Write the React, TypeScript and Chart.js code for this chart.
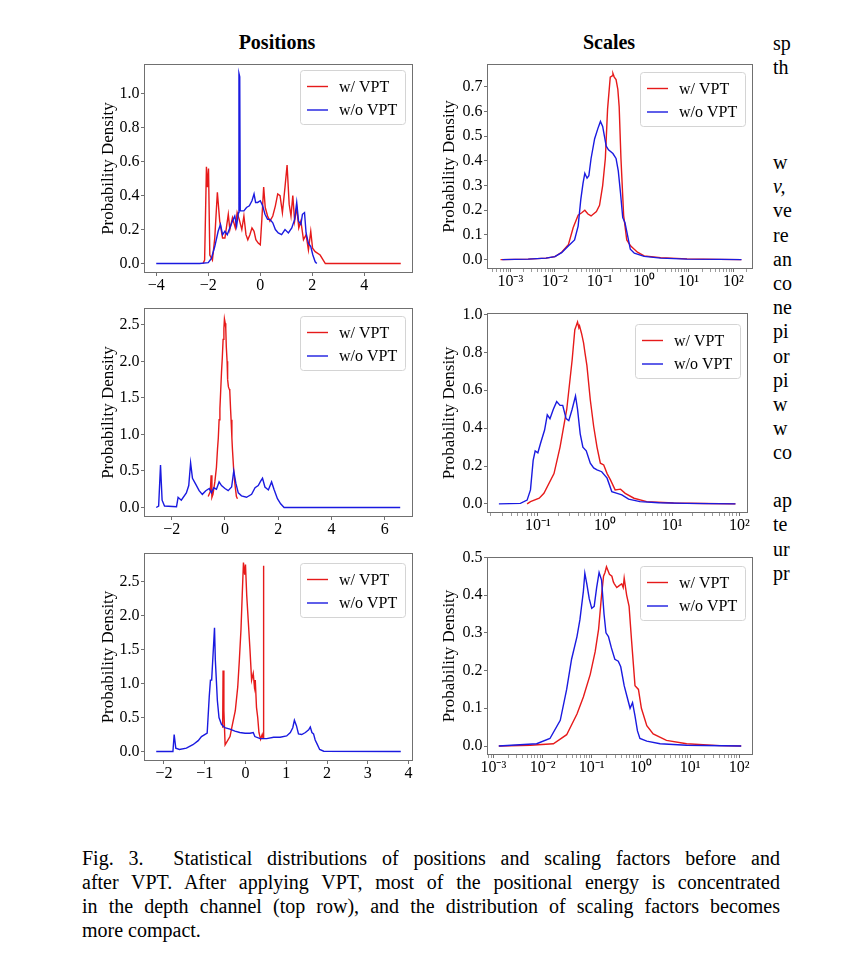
import React, { useEffect, useRef } from "react";
import { Chart, registerables } from "chart.js";

Chart.register(...registerables);

type Pt = [number, number];

const FONT = '"Liberation Serif", "Times New Roman", Times, serif';
const RED = "#e61a1a";
const BLUE = "#1a1ae0";
const FRAME = "#707070";

const seriesLabels = ["w/ VPT", "w/o VPT"];
const columnTitles = ["Positions", "Scales"];
const yAxisTitle = "Probability Density";

// ---------- tick values ----------
const posTopXTicks = [-4, -2, 0, 2, 4];
const posTopYTicks = [0, 0.2, 0.4, 0.6, 0.8, 1.0];
const posMidXTicks = [-2, 0, 2, 4, 6];
const posMidYTicks = [0, 0.5, 1.0, 1.5, 2.0, 2.5];
const posBotXTicks = [-2, -1, 0, 1, 2, 3, 4];
const posBotYTicks = [0, 0.5, 1.0, 1.5, 2.0, 2.5];
const scaleTopXTicks = [1e-3, 1e-2, 1e-1, 1, 10, 100];
const scaleTopYTicks = [0, 0.1, 0.2, 0.3, 0.4, 0.5, 0.6, 0.7];
const scaleMidXTicks = [1e-1, 1, 10, 100];
const scaleMidYTicks = [0, 0.2, 0.4, 0.6, 0.8, 1.0];
const scaleBotXTicks = [1e-3, 1e-2, 1e-1, 1, 10, 100];
const scaleBotYTicks = [0, 0.1, 0.2, 0.3, 0.4, 0.5];

// ---------- data: positions (x = position, y = density) ----------
const posTopRed: Pt[] = [[-2.2,0],[-2.14,0.02],[-2.07,0.57],[-2.03,0.45],[-1.99,0.56],[-1.94,0.05],[-1.84,0.02],[-1.75,0.15],[-1.65,0.42],[-1.56,0.25],[-1.45,0.15],[-1.36,0.15],[-1.23,0.29],[-1.17,0.2],[-1.07,0.27],[-0.96,0.21],[-0.89,0.3],[-0.81,0.26],[-0.71,0.2],[-0.63,0.28],[-0.55,0.17],[-0.48,0.14],[-0.4,0.17],[-0.32,0.21],[-0.24,0.19],[-0.17,0.14],[-0.08,0.12],[0,0.11],[0.06,0.26],[0.13,0.45],[0.19,0.33],[0.28,0.28],[0.37,0.25],[0.48,0.28],[0.58,0.34],[0.67,0.41],[0.76,0.4],[0.85,0.3],[0.95,0.45],[1.03,0.58],[1.11,0.35],[1.18,0.28],[1.25,0.4],[1.32,0.25],[1.4,0.33],[1.48,0.21],[1.56,0.25],[1.66,0.14],[1.76,0.17],[1.85,0.08],[1.94,0.19],[2.01,0.09],[2.11,0.07],[2.3,0.05],[2.5,0],[5.4,0]];
const posTopBlue: Pt[] = [[-4.0,0],[-2.33,0],[-2.0,0.005],[-1.88,0.03],[-1.75,0.1],[-1.62,0.19],[-1.53,0.23],[-1.45,0.17],[-1.36,0.19],[-1.27,0.17],[-1.17,0.21],[-1.07,0.25],[-0.98,0.28],[-0.91,0.22],[-0.84,0.3],[-0.82,1.12],[-0.79,1.1],[-0.77,0.31],[-0.7,0.31],[-0.63,0.31],[-0.53,0.33],[-0.42,0.34],[-0.32,0.37],[-0.24,0.41],[-0.18,0.36],[-0.1,0.36],[0,0.37],[0.09,0.34],[0.18,0.29],[0.28,0.26],[0.37,0.26],[0.48,0.24],[0.58,0.2],[0.69,0.18],[0.82,0.17],[0.95,0.2],[1.08,0.18],[1.21,0.21],[1.32,0.26],[1.4,0.36],[1.47,0.25],[1.56,0.23],[1.62,0.29],[1.7,0.3],[1.76,0.18],[1.85,0.12],[1.94,0.1],[2.02,0.05],[2.11,0.01],[2.17,0]];

const posMidRed: Pt[] = [[-0.63,0.15],[-0.55,0.22],[-0.52,0.44],[-0.49,0.14],[-0.45,0.18],[-0.38,0.35],[-0.32,0.55],[-0.28,0.8],[-0.25,0.95],[-0.22,1.2],[-0.19,1.35],[-0.16,1.6],[-0.13,1.85],[-0.1,2.05],[-0.07,2.3],[-0.04,2.45],[-0.02,2.58],[0.01,2.52],[0.03,2.45],[0.05,2.2],[0.08,2.0],[0.1,1.75],[0.13,1.65],[0.16,1.62],[0.18,1.6],[0.21,1.35],[0.23,1.2],[0.26,0.95],[0.28,0.8],[0.33,0.5],[0.38,0.3],[0.43,0.15],[0.47,0.12]];
const posMidBlue: Pt[] = [[-2.58,0],[-2.49,0.02],[-2.42,0.58],[-2.36,0.1],[-2.27,0.02],[-1.82,0.01],[-1.76,0.14],[-1.64,0.1],[-1.45,0.2],[-1.36,0.3],[-1.29,0.61],[-1.22,0.4],[-1.1,0.32],[-0.97,0.23],[-0.85,0.18],[-0.72,0.23],[-0.59,0.26],[-0.51,0.2],[-0.42,0.27],[-0.32,0.25],[-0.22,0.35],[-0.13,0.3],[0,0.26],[0.12,0.23],[0.25,0.28],[0.33,0.5],[0.41,0.33],[0.5,0.2],[0.62,0.16],[0.81,0.14],[1.0,0.18],[1.13,0.27],[1.25,0.3],[1.34,0.36],[1.41,0.4],[1.5,0.28],[1.63,0.24],[1.75,0.35],[1.84,0.25],[1.97,0.12],[2.09,0.05],[2.22,0],[6.58,0]];

const posBotRed: Pt[] = [[-0.56,0.35],[-0.55,1.19],[-0.53,0.6],[-0.5,0.1],[-0.45,0.15],[-0.38,0.22],[-0.32,0.4],[-0.25,0.6],[-0.19,0.95],[-0.15,1.35],[-0.11,1.8],[-0.08,2.3],[-0.05,2.78],[-0.02,2.6],[0,2.75],[0.03,2.3],[0.07,1.9],[0.11,1.5],[0.15,1.05],[0.19,1.15],[0.22,0.95],[0.24,1.05],[0.27,0.65],[0.3,0.5],[0.33,0.28],[0.37,0.18],[0.41,0.25],[0.43,0.2],[0.44,2.73],[0.45,0.2]];
const posBotBlue: Pt[] = [[-2.19,0],[-1.78,0],[-1.75,0.25],[-1.71,0.05],[-1.62,0.03],[-1.45,0.05],[-1.29,0.1],[-1.16,0.16],[-1.08,0.22],[-0.94,0.27],[-0.89,0.8],[-0.86,1.05],[-0.83,1.05],[-0.78,1.6],[-0.76,1.82],[-0.74,1.35],[-0.69,0.75],[-0.65,0.5],[-0.59,0.4],[-0.51,0.35],[-0.38,0.33],[-0.26,0.3],[-0.14,0.28],[-0.01,0.27],[0.11,0.27],[0.19,0.28],[0.23,0.22],[0.36,0.19],[0.52,0.19],[0.69,0.21],[0.85,0.21],[1.01,0.23],[1.1,0.28],[1.16,0.35],[1.2,0.46],[1.25,0.38],[1.3,0.26],[1.38,0.25],[1.47,0.28],[1.55,0.32],[1.59,0.36],[1.63,0.28],[1.67,0.26],[1.71,0.17],[1.75,0.12],[1.82,0.03],[1.92,0.005],[3.81,0]];

// ---------- data: scales (x given as log10 of the scale, y = density) ----------
const scaleTopRed: Pt[] = [[-3.22,0],[-2.6,0.002],[-2.2,0.006],[-2.0,0.012],[-1.85,0.03],[-1.7,0.06],[-1.59,0.13],[-1.48,0.18],[-1.4,0.19],[-1.33,0.2],[-1.26,0.185],[-1.19,0.177],[-1.07,0.195],[-1.0,0.22],[-0.93,0.3],[-0.87,0.41],[-0.82,0.61],[-0.76,0.74],[-0.72,0.745],[-0.7,0.755],[-0.67,0.74],[-0.63,0.73],[-0.59,0.69],[-0.56,0.62],[-0.52,0.41],[-0.46,0.18],[-0.39,0.08],[-0.3,0.055],[-0.15,0.03],[0,0.015],[0.37,0.008],[0.96,0.003],[1.7,0.001],[2.18,0]];
const scaleTopBlue: Pt[] = [[-3.18,0],[-2.6,0.002],[-2.2,0.006],[-2.0,0.012],[-1.85,0.028],[-1.7,0.055],[-1.56,0.08],[-1.48,0.136],[-1.42,0.244],[-1.37,0.31],[-1.33,0.35],[-1.28,0.33],[-1.24,0.34],[-1.19,0.41],[-1.11,0.49],[-1.04,0.53],[-0.98,0.56],[-0.93,0.54],[-0.89,0.5],[-0.85,0.46],[-0.8,0.445],[-0.7,0.43],[-0.63,0.41],[-0.58,0.36],[-0.53,0.27],[-0.48,0.17],[-0.43,0.15],[-0.37,0.096],[-0.31,0.042],[-0.22,0.026],[0,0.013],[0.37,0.006],[0.96,0.002],[1.7,0.001],[2.18,0]];

const scaleMidRed: Pt[] = [[-1.16,0],[-1.11,0.012],[-0.98,0.03],[-0.91,0.056],[-0.76,0.16],[-0.67,0.3],[-0.57,0.5],[-0.49,0.76],[-0.45,0.92],[-0.43,0.94],[-0.41,0.96],[-0.39,0.93],[-0.38,0.94],[-0.35,0.9],[-0.32,0.85],[-0.3,0.8],[-0.27,0.73],[-0.22,0.55],[-0.17,0.41],[-0.12,0.3],[-0.07,0.215],[-0.02,0.206],[0.03,0.16],[0.08,0.127],[0.15,0.074],[0.23,0.078],[0.3,0.056],[0.43,0.03],[0.62,0.012],[1.02,0.005],[1.47,0.002],[1.94,0]];
const scaleMidBlue: Pt[] = [[-1.58,0],[-1.26,0.003],[-1.16,0.02],[-1.11,0.074],[-1.07,0.23],[-1.04,0.28],[-1.0,0.27],[-0.96,0.32],[-0.9,0.39],[-0.86,0.47],[-0.82,0.45],[-0.77,0.5],[-0.72,0.54],[-0.67,0.52],[-0.63,0.52],[-0.58,0.45],[-0.54,0.44],[-0.49,0.5],[-0.44,0.57],[-0.41,0.5],[-0.37,0.37],[-0.33,0.3],[-0.28,0.28],[-0.22,0.215],[-0.17,0.19],[-0.12,0.18],[-0.05,0.17],[0.03,0.136],[0.1,0.065],[0.18,0.056],[0.25,0.048],[0.35,0.025],[0.52,0.012],[0.8,0.006],[1.2,0.003],[1.94,0]];

const scaleBotRed: Pt[] = [[-2.89,0],[-2.25,0.002],[-1.78,0.006],[-1.51,0.03],[-1.3,0.085],[-1.17,0.13],[-1.03,0.19],[-0.93,0.25],[-0.86,0.31],[-0.8,0.4],[-0.76,0.45],[-0.73,0.46],[-0.7,0.475],[-0.67,0.465],[-0.64,0.455],[-0.59,0.45],[-0.56,0.435],[-0.54,0.43],[-0.49,0.42],[-0.44,0.425],[-0.39,0.43],[-0.36,0.42],[-0.34,0.445],[-0.29,0.4],[-0.24,0.37],[-0.19,0.28],[-0.12,0.16],[-0.05,0.15],[0.01,0.1],[0.12,0.054],[0.25,0.032],[0.52,0.015],[0.93,0.006],[1.6,0.001],[2.04,0]];
const scaleBotBlue: Pt[] = [[-2.89,0],[-2.12,0.006],[-1.85,0.02],[-1.64,0.068],[-1.51,0.15],[-1.41,0.23],[-1.3,0.29],[-1.24,0.335],[-1.17,0.41],[-1.14,0.458],[-1.1,0.43],[-1.05,0.39],[-1.0,0.365],[-0.95,0.37],[-0.9,0.42],[-0.85,0.46],[-0.8,0.44],[-0.75,0.35],[-0.71,0.3],[-0.66,0.29],[-0.6,0.26],[-0.53,0.23],[-0.46,0.225],[-0.41,0.21],[-0.34,0.16],[-0.28,0.13],[-0.22,0.1],[-0.17,0.115],[-0.12,0.08],[-0.07,0.04],[-0.02,0.02],[0.12,0.013],[0.39,0.006],[0.93,0.002],[2.04,0]];

// ---------- caption & surrounding text ----------
const captionLines = [
  "Fig. 3.\u00a0\u00a0Statistical distributions of positions and scaling factors before and",
  "after VPT. After applying VPT, most of the positional energy is concentrated",
  "in the depth channel (top row), and the distribution of scaling factors becomes",
  "more compact.",
];
const sideFragments: [string, number][] = [
  ["sp", 43], ["th", 67], ["w", 162], ["v,", 186], ["ve", 210], ["re", 235], ["an", 259],
  ["co", 283], ["ne", 307], ["pi", 331], ["or", 356], ["pi", 380], ["w", 404], ["w", 428],
  ["co", 452], ["ap", 500], ["te", 524], ["ur", 549], ["pr", 573],
];

// ---------- layout constants ----------
const Y_AXIS_W = 54;
const X_AXIS_H = 24;
const PAD_T = 12;
const PAD_R = 16;

type Spec = {
  frame: [number, number, number, number];
  log: boolean;
  xMin: number; xMax: number; yMin: number; yMax: number;
  xTicks: number[]; yTicks: number[];
  red: Pt[]; blue: Pt[];
  legendGap: [number, number];
  titlePad: number;
};

const specs: Spec[] = [
  { frame: [144, 64, 413, 273], log: false, xMin: -4.47, xMax: 5.87, yMin: -0.056, yMax: 1.176,
    xTicks: posTopXTicks, yTicks: posTopYTicks, red: posTopRed, blue: posTopBlue, legendGap: [8, 6], titlePad: 8.6 },
  { frame: [487, 64, 753, 269], log: true, xMin: -3.48, xMax: 2.44, yMin: -0.038, yMax: 0.793,
    xTicks: scaleTopXTicks, yTicks: scaleTopYTicks, red: scaleTopRed, blue: scaleTopBlue, legendGap: [8, 8], titlePad: 6 },
  { frame: [144, 308, 413, 517], log: false, xMin: -3.04, xMax: 7.06, yMin: -0.13, yMax: 2.73,
    xTicks: posMidXTicks, yTicks: posMidYTicks, red: posMidRed, blue: posMidBlue, legendGap: [8, 8], titlePad: 8.6 },
  { frame: [487, 313, 748, 513], log: true, xMin: -1.757, xMax: 2.127, yMin: -0.048, yMax: 1.008,
    xTicks: scaleMidXTicks, yTicks: scaleMidYTicks, red: scaleMidRed, blue: scaleMidBlue, legendGap: [8, 11], titlePad: 6 },
  { frame: [144, 553, 413, 761], log: false, xMin: -2.49, xMax: 4.11, yMin: -0.139, yMax: 2.919,
    xTicks: posBotXTicks, yTicks: posBotYTicks, red: posBotRed, blue: posBotBlue, legendGap: [8, 10], titlePad: 8.6 },
  { frame: [487, 557, 753, 755], log: true, xMin: -3.13, xMax: 2.28, yMin: -0.0238, yMax: 0.501,
    xTicks: scaleBotXTicks, yTicks: scaleBotYTicks, red: scaleBotRed, blue: scaleBotBlue, legendGap: [8, 9], titlePad: 6 },
];

const SUP: Record<string, string> = { "-": "\u207B", "0": "\u2070", "1": "\u00B9", "2": "\u00B2", "3": "\u00B3" };
const powLabel = (v: number) => {
  const e = Math.round(Math.log10(v));
  return "10" + String(e).split("").map((c) => SUP[c] || c).join("");
};
const numLabel = (v: number) => (v < 0 ? "\u2212" + Math.abs(v) : String(v));

const framePlugin = {
  id: "frameBox",
  afterDatasetsDraw(chart: any) {
    const { ctx, chartArea: a } = chart;
    ctx.save();
    ctx.strokeStyle = FRAME;
    ctx.lineWidth = 1;
    ctx.strokeRect(Math.round(a.left) + 0.5, Math.round(a.top) + 0.5, Math.round(a.right - a.left) - 1, Math.round(a.bottom - a.top) - 1);
    ctx.restore();
  },
};

const legendPlugin = {
  id: "boxLegend",
  afterDraw(chart: any, _args: any, opts: any) {
    const { ctx, chartArea: a } = chart;
    const w = 105, h = 54;
    const x = Math.round(a.right - opts.right - w);
    const y = Math.round(a.top + opts.top);
    ctx.save();
    ctx.beginPath();
    ctx.roundRect(x + 0.5, y + 0.5, w, h, 3);
    ctx.fillStyle = "rgba(255,255,255,0.85)";
    ctx.fill();
    ctx.strokeStyle = "#d4d4d4";
    ctx.lineWidth = 1;
    ctx.stroke();
    ctx.font = `16px ${FONT}`;
    ctx.textBaseline = "middle";
    ctx.textAlign = "left";
    chart.data.datasets.forEach((ds: any, i: number) => {
      const cy = y + 16.5 + i * 23.5;
      ctx.strokeStyle = ds.borderColor;
      ctx.lineWidth = 1.4;
      ctx.beginPath();
      ctx.moveTo(x + 7, cy);
      ctx.lineTo(x + 28, cy);
      ctx.stroke();
      ctx.fillStyle = "#000";
      ctx.fillText(ds.label, x + 39, cy + 1);
    });
    ctx.restore();
  },
};

function minorLogTicks(min: number, max: number) {
  const out: number[] = [];
  for (let e = Math.floor(Math.log10(min)); e <= Math.ceil(Math.log10(max)); e++) {
    for (let m = 2; m <= 9; m++) {
      const v = m * Math.pow(10, e);
      if (v >= min && v <= max) out.push(v);
    }
  }
  return out;
}

function buildConfig(spec: Spec): any {
  const toPoint = (p: Pt) => ({ x: spec.log ? Math.pow(10, p[0]) : p[0], y: p[1] });
  const xMin = spec.log ? Math.pow(10, spec.xMin) : spec.xMin;
  const xMax = spec.log ? Math.pow(10, spec.xMax) : spec.xMax;
  const xTickList = spec.log
    ? [
        ...spec.xTicks.map((v) => ({ value: v, major: true, text: powLabel(v) })),
        ...minorLogTicks(xMin, xMax).map((v) => ({ value: v, major: false, text: "" })),
      ]
    : spec.xTicks.map((v) => ({ value: v, major: true, text: numLabel(v) }));
  const tickFont = { family: FONT, size: 16 };
  return {
    type: "line",
    data: {
      datasets: [
        { label: seriesLabels[0], data: spec.red.map(toPoint), borderColor: RED, backgroundColor: RED, order: 2 },
        { label: seriesLabels[1], data: spec.blue.map(toPoint), borderColor: BLUE, backgroundColor: BLUE, order: 1 },
      ],
    },
    plugins: [framePlugin, legendPlugin],
    options: {
      responsive: false,
      maintainAspectRatio: false,
      animation: false,
      events: [],
      layout: { padding: { left: 0, top: PAD_T, right: PAD_R, bottom: 0 } },
      elements: { point: { radius: 0 }, line: { borderWidth: 1.4, tension: 0, fill: false } },
      plugins: {
        legend: { display: false },
        tooltip: { enabled: false },
        boxLegend: { right: spec.legendGap[0], top: spec.legendGap[1] },
      },
      scales: {
        x: {
          type: spec.log ? "logarithmic" : "linear",
          min: xMin,
          max: xMax,
          afterBuildTicks: (s: any) => {
            s.ticks = xTickList.map((t) => ({ value: t.value, major: t.major }));
          },
          afterFit: (s: any) => {
            s.height = X_AXIS_H;
          },
          ticks: {
            autoSkip: false,
            maxRotation: 0,
            minRotation: 0,
            padding: 0,
            color: "#000",
            font: tickFont,
            callback: (_v: any, i: number) => xTickList[i].text,
          },
          grid: {
            display: true,
            drawOnChartArea: false,
            drawTicks: true,
            tickLength: 3,
            color: FRAME,
            tickWidth: (c: any) => (c.tick && c.tick.major === false ? 0.7 : 1),
          },
          border: { display: false },
        },
        y: {
          type: "linear",
          min: spec.yMin,
          max: spec.yMax,
          afterBuildTicks: (s: any) => {
            s.ticks = spec.yTicks.map((v) => ({ value: v }));
          },
          afterFit: (s: any) => {
            s.width = Y_AXIS_W;
          },
          ticks: {
            autoSkip: false,
            padding: 1.5,
            color: "#000",
            font: tickFont,
            callback: (v: any) => Number(v).toFixed(1),
          },
          grid: { display: true, drawOnChartArea: false, drawTicks: true, tickLength: 3, color: FRAME },
          border: { display: false },
          title: {
            display: true,
            text: yAxisTitle,
            color: "#000",
            font: { family: FONT, size: 17 },
            padding: { top: spec.titlePad, bottom: 0 },
          },
        },
      },
    },
  };
}

function Plot({ spec }: { spec: Spec }) {
  const ref = useRef<HTMLCanvasElement>(null);
  useEffect(() => {
    if (!ref.current) return;
    const chart = new Chart(ref.current, buildConfig(spec));
    return () => chart.destroy();
  }, [spec]);
  const [L, T, R, B] = spec.frame;
  const w = Y_AXIS_W + (R - L) + PAD_R;
  const h = PAD_T + (B - T) + X_AXIS_H;
  return (
    <canvas
      ref={ref}
      width={w}
      height={h}
      style={{ position: "absolute", left: L - Y_AXIS_W, top: T - PAD_T, width: w, height: h }}
    />
  );
}

export default function App() {
  Chart.defaults.font.family = FONT;
  return (
    <div
      style={{
        position: "absolute",
        left: 0,
        top: 0,
        width: 863,
        height: 958,
        overflow: "hidden",
        background: "#fff",
        fontFamily: FONT,
        color: "#000",
      }}
    >
      <div style={{ position: "absolute", left: 177, top: 30, width: 200, textAlign: "center", fontWeight: "bold", fontSize: 20, lineHeight: "24px" }}>
        {columnTitles[0]}
      </div>
      <div style={{ position: "absolute", left: 509, top: 30, width: 200, textAlign: "center", fontWeight: "bold", fontSize: 20, lineHeight: "24px" }}>
        {columnTitles[1]}
      </div>
      {specs.map((s, i) => (
        <Plot key={i} spec={s} />
      ))}
      {sideFragments.map(([t, y], i) => (
        <div key={i} style={{ position: "absolute", left: 773, top: y - 12, fontSize: 20, lineHeight: "24px", whiteSpace: "nowrap", fontStyle: t === "v," ? "italic" : "normal" }}>
          {t}
        </div>
      ))}
      {captionLines.map((line, i) => (
        <div
          key={i}
          style={{
            position: "absolute",
            left: 82,
            top: 846 + i * 24,
            width: 698,
            fontSize: 20,
            lineHeight: "24px",
            textAlign: i < captionLines.length - 1 ? "justify" : "left",
            textAlignLast: i < captionLines.length - 1 ? "justify" : "left",
            whiteSpace: "normal",
          }}
        >
          {line}
        </div>
      ))}
    </div>
  );
}
